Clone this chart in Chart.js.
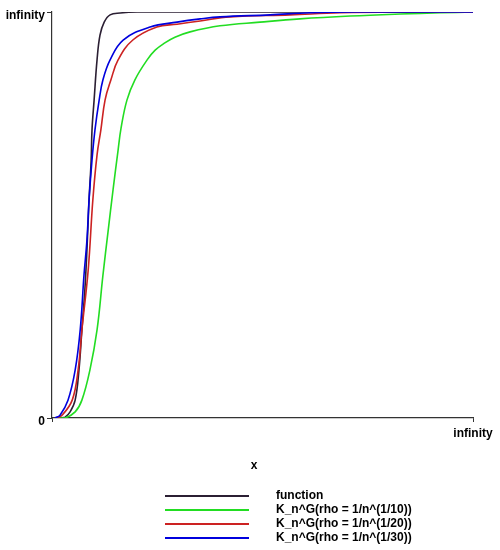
<!DOCTYPE html>
<html>
<head>
<meta charset="utf-8">
<script src="https://cdn.jsdelivr.net/npm/chart.js@4/dist/chart.umd.min.js"></script>
<style>
  body { margin: 0; background: #fff; }
  #plot { display: block; }
</style>
</head>
<body>
<canvas id="plot" width="500" height="550"></canvas>
<script>
// values (x and y both run from 0 to "infinity" = 100)
const seriesNames = ['function', 'K_n^G(rho = 1/n^(1/10))', 'K_n^G(rho = 1/n^(1/20))', 'K_n^G(rho = 1/n^(1/30))'];
const seriesColors = ['#2b1f33', '#22dd22', '#cc2222', '#0000dd'];

const funcX = [1.9, 3.1, 4.3, 5.5, 6.4, 7.1, 7.8, 8.3, 8.8, 9.3, 9.5, 10.0, 10.7, 11.4, 12.4, 13.8, 16.2, 20.2, 35.2, 100];
const funcY = [0, 0.2, 1.5, 4.4, 11.8, 21.7, 31.5, 41.4, 53.7, 63.5, 70.9, 78.3, 88.2, 94.3, 97.5, 99.3, 99.75, 100, 100, 100];

const rho10X = [1.4, 3.1, 5.5, 7.1, 9.0, 10.7, 12.1, 13.3, 14.5, 15.7, 16.4, 17.8, 19.7, 22.6, 24.5, 26.8, 29.2, 32.8, 39.9, 49.4, 58.9, 70.8, 82.7, 92.2, 100];
const rho10Y = [0, 0, 1.5, 4.4, 11.8, 21.7, 35.2, 45.8, 56.2, 66.0, 71.4, 78.3, 83.3, 88.2, 90.6, 92.4, 93.8, 95.1, 96.6, 97.5, 98.3, 99.0, 99.5, 99.8, 100];

const rho20X = [1.0, 2.4, 4.8, 6.2, 7.1, 8.6, 9.7, 10.7, 11.6, 12.6, 14.0, 15.7, 19.2, 24.9, 29.7, 35.2, 42.3, 56.5, 68.4, 82.7, 100];
const rho20Y = [0, 0.7, 4.4, 11.8, 21.7, 36.5, 53.7, 64.8, 70.9, 78.3, 83.3, 88.2, 93.1, 96.3, 97.0, 97.8, 98.8, 99.3, 99.8, 100, 100];

const rho30X = [0.7, 1.9, 3.8, 5.5, 6.7, 7.6, 8.3, 8.8, 9.5, 10.2, 11.2, 12.1, 13.8, 16.9, 23.3, 29.7, 35.2, 39.9, 51.8, 61.3, 72.0, 100];
const rho30Y = [0, 0.7, 4.4, 11.8, 21.7, 35.2, 43.8, 53.7, 63.5, 70.9, 78.3, 83.3, 88.2, 93.1, 96.3, 97.5, 98.3, 98.8, 99.3, 99.8, 100, 100];

const yTickLabels = { 0: '0', 100: 'infinity' };
const xTickLabels = { 0: '', 100: 'infinity' };
const xTitle = 'x';

const seriesX = [funcX, rho10X, rho20X, rho30X];
const seriesY = [funcY, rho10Y, rho20Y, rho30Y];

function pairUp(xs, ys) {
  return xs.map((x, i) => ({ x: x, y: ys[i] }));
}

const font = 'bold 12px "Liberation Sans", Arial, sans-serif';

// draws the x label and the stacked legend under the plot
const bottomText = {
  id: 'bottomText',
  afterDraw(chart) {
    const c = chart.ctx;
    c.save();
    c.font = font;
    c.fillStyle = '#000';
    c.textBaseline = 'middle';
    c.textAlign = 'center';
    c.fillText(xTitle, 254, 466);
    c.textAlign = 'left';
    seriesNames.forEach((name, i) => {
      const y = 496 + i * 14;
      c.strokeStyle = seriesColors[i];
      c.lineWidth = 2;
      c.beginPath();
      c.moveTo(165, y);
      c.lineTo(249, y);
      c.stroke();
      c.fillText(name, 276, y);
    });
    c.restore();
  }
};

const ctx = document.getElementById('plot').getContext('2d');
const chart = new Chart(ctx, {
  type: 'scatter',
  data: {
    datasets: seriesNames.map((name, i) => ({
      label: name,
      data: pairUp(seriesX[i], seriesY[i]),
      showLine: true,
      borderColor: seriesColors[i],
      backgroundColor: seriesColors[i],
      borderWidth: 1.6,
      pointRadius: 0,
      tension: 0.4,
      order: seriesNames.length - i // blue ends up on top
    }))
  },
  options: {
    responsive: false,
    animation: false,
    layout: { padding: { top: 12, right: 27, left: 0, bottom: 0 } },
    plugins: {
      legend: { display: false },
      tooltip: { enabled: false }
    },
    scales: {
      x: {
        type: 'linear',
        min: 0,
        max: 100,
        afterBuildTicks: s => { s.ticks = [{ value: 0 }, { value: 100 }]; },
        afterFit: s => { s.height = 132; },
        border: { color: '#333', width: 1.2 },
        grid: { drawOnChartArea: false, tickLength: 4, color: '#333' },
        ticks: {
          padding: 4,
          maxRotation: 0,
          color: '#000',
          font: { family: '"Liberation Sans", Arial, sans-serif', size: 12, weight: 'bold' },
          callback: v => xTickLabels[v]
        }
      },
      y: {
        min: 0,
        max: 100,
        afterBuildTicks: s => { s.ticks = [{ value: 0 }, { value: 100 }]; },
        afterFit: s => { s.width = 52; },
        border: { color: '#333', width: 1.2 },
        grid: { drawOnChartArea: false, tickLength: 5, color: '#333' },
        ticks: {
          padding: 2,
          labelOffset: 4,
          color: '#000',
          font: { family: '"Liberation Sans", Arial, sans-serif', size: 12, weight: 'bold' },
          callback: v => yTickLabels[v]
        }
      }
    }
  },
  plugins: [bottomText]
});
</script>
</body>
</html>
